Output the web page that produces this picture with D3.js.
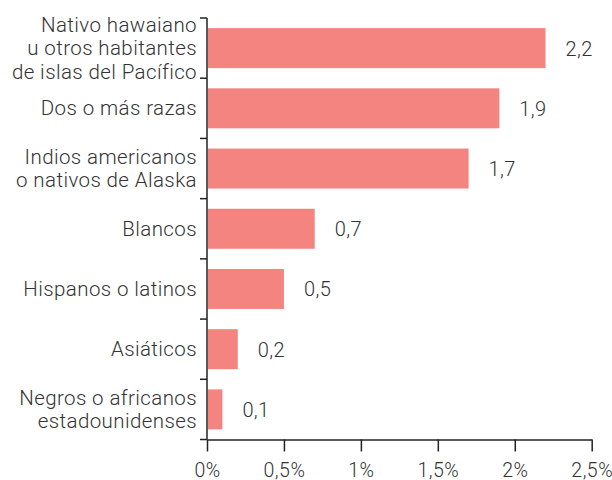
<!DOCTYPE html>
<html>
<head>
<meta charset="utf-8">
<script src="https://cdn.jsdelivr.net/npm/d3@7"></script>
<style>
  html, body { margin: 0; padding: 0; background: #fff; }
  svg { display: block; }
  text { font-family: "Roboto", "Liberation Sans", sans-serif; font-weight: 300; fill: #333; }
</style>
</head>
<body>
<svg id="chart" width="612" height="480"></svg>
<script>
// Categories (top to bottom); each entry is split into its display lines
const categories = [
  "Nativo hawaiano|u otros habitantes|de islas del Pacífico",
  "Dos o más razas",
  "Indios americanos|o nativos de Alaska",
  "Blancos",
  "Hispanos o latinos",
  "Asiáticos",
  "Negros o africanos|estadounidenses"
];
// Percentages per category
const values = [2.2, 1.9, 1.7, 0.7, 0.5, 0.2, 0.1];
// X axis ticks (percent)
const xTicks = [0, 0.5, 1, 1.5, 2, 2.5];

const data = categories.map((c, i) => ({ cat: c, value: values[i] }));

const es = d3.formatLocale({ decimal: ",", thousands: ".", grouping: [3], currency: ["", " €"] });
const fmtValue = es.format(".1f");
const fmtTick = d => es.format("~g")(d) + "%";

const svg = d3.select("#chart");
const axisX = 207;
const plotTop = 18, plotBottom = 439.5;

const x = d3.scaleLinear().domain([0, 2.5]).range([axisX, 591.7]);
const y = d3.scaleBand().domain(categories).range([plotTop, plotBottom]).paddingInner(0.336).paddingOuter(0.168);

const barColor = "#f4847f";
const axisColor = "#222";

// Bars
svg.append("g").selectAll("rect").data(data).join("rect")
  .attr("x", x(0) + 1)
  .attr("y", d => y(d.cat))
  .attr("width", d => x(d.value) - x(0) - 1)
  .attr("height", y.bandwidth())
  .attr("fill", barColor);

// Value labels
svg.append("g").selectAll("text").data(data).join("text")
  .attr("x", d => x(d.value) + 20)
  .attr("y", d => y(d.cat) + y.bandwidth() / 2 + 7.5)
  .attr("font-size", 20)
  .attr("letter-spacing", 0.4)
  .text(d => fmtValue(d.value));

// Y axis: line with ticks at band boundaries
const yAxis = svg.append("g");
yAxis.append("line")
  .attr("x1", axisX).attr("x2", axisX)
  .attr("y1", plotTop).attr("y2", plotBottom)
  .attr("stroke", axisColor).attr("stroke-width", 1.5);
const boundaries = categories.map(c => y(c) - y.step() * y.paddingInner() / 2).concat([plotBottom]);
boundaries[0] = plotTop;
yAxis.selectAll("line.tick").data(boundaries).join("line")
  .attr("class", "tick")
  .attr("x1", axisX - 7).attr("x2", axisX)
  .attr("y1", d => d).attr("y2", d => d)
  .attr("stroke", axisColor).attr("stroke-width", 1.5);

// Category labels (multi-line, right aligned)
const lineH = 23.5;
const labels = svg.append("g").selectAll("text").data(data).join("text")
  .attr("text-anchor", "end")
  .attr("font-size", 20.5)
  .attr("letter-spacing", 0.4);
labels.each(function (d) {
  const lines = d.cat.split("|");
  const cy = y(d.cat) + y.bandwidth() / 2 + 7;
  const start = cy - (lines.length - 1) * lineH / 2;
  d3.select(this).selectAll("tspan").data(lines).join("tspan")
    .attr("x", 197)
    .attr("y", (l, i) => start + i * lineH)
    .text(l => l);
});

// X axis
const xAxis = svg.append("g")
  .attr("transform", `translate(0,${plotBottom})`)
  .call(d3.axisBottom(x).tickValues(xTicks).tickFormat(fmtTick).tickSize(12).tickSizeOuter(0).tickPadding(12));
xAxis.select(".domain").attr("stroke", axisColor).attr("stroke-width", 1.5);
xAxis.selectAll(".tick line").attr("stroke", axisColor).attr("stroke-width", 1.5);
xAxis.selectAll(".tick text")
  .attr("font-size", 19.5)
  .attr("letter-spacing", 0.5)
  .attr("font-family", "Roboto, 'Liberation Sans', sans-serif")
  .attr("font-weight", 300)
  .attr("fill", "#333");
</script>
</body>
</html>
